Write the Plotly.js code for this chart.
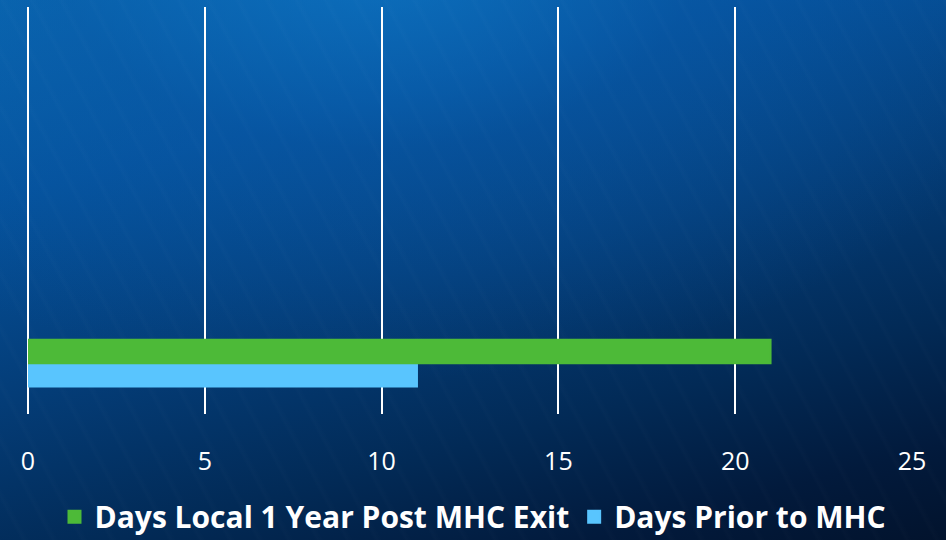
<!DOCTYPE html>
<html>
<head>
<meta charset="utf-8">
<script src="https://cdn.plot.ly/plotly-3.0.1.min.js"></script>
<style>
html,body{margin:0;padding:0;width:946px;height:540px;overflow:hidden;}
#bg{position:absolute;left:0;top:0;width:946px;height:540px;
background:
 repeating-linear-gradient(62deg, rgba(255,255,255,0.0) 0px, rgba(255,255,255,0.0) 18px, rgba(255,255,255,0.012) 21px, rgba(255,255,255,0.0) 26px),
 radial-gradient(ellipse 700px 420px at 380px -40px, rgba(15,120,200,0.65) 0%, rgba(10,90,170,0.4) 45%, rgba(0,0,0,0) 100%),
 linear-gradient(165deg, #0968b0 0%, #05529c 25%, #043d78 50%, #022a56 72%, #021a3c 88%, #02132d 100%);}
#chart{position:absolute;left:0;top:0;width:946px;height:540px;}
</style>
</head>
<body>
<div id="bg"></div>
<div id="chart"></div>
<script>
var categories = ['Days'];
var seriesNames = ['Days Local 1 Year Post MHC Exit', 'Days Prior to MHC'];
var postExitValues = [21];
var priorValues = [11];
var xTickValues = [0, 5, 10, 15, 20, 25];

var traces = [
  {type:'bar', orientation:'h', name: seriesNames[1], y: categories, x: priorValues,
   marker:{color:'#59c5fe', line:{color:'#59c5fe', width:2}}, legendrank: 2, hoverinfo:'x'},
  {type:'bar', orientation:'h', name: seriesNames[0], y: categories, x: postExitValues,
   marker:{color:'#4dba38', line:{color:'#4dba38', width:2}}, legendrank: 1, hoverinfo:'x'}
];

var layout = {
  width: 946, height: 540,
  paper_bgcolor:'rgba(0,0,0,0)', plot_bgcolor:'rgba(0,0,0,0)',
  margin:{l:28, r:34, t:7, b:126},
  barmode:'group', bargap:0.54, bargroupgap:0,
  font:{family:'"Open Sans", Lato, sans-serif', color:'#ffffff'},
  xaxis:{range:[0,25], tickvals:xTickValues, showgrid:true, gridcolor:'#ffffff', gridwidth:2,
    zeroline:true, zerolinecolor:'#ffffff', zerolinewidth:2, showline:false,
    ticks:'', ticklabelstandoff:30, tickfont:{size:25, color:'#ffffff', family:'"Open Sans", sans-serif'}, fixedrange:true},
  yaxis:{type:'category', range:[-0.5,3.5], showticklabels:false, showgrid:false, zeroline:false, showline:false, fixedrange:true},
  showlegend:true,
  legend:{orientation:'h', x:0.5, xanchor:'center', xref:'container', y:0.043, yanchor:'middle', yref:'container',
    font:{size:30, color:'#ffffff', family:'"Open Sans", sans-serif', weight:'bold'},
    itemwidth:30, traceorder:'normal', bgcolor:'rgba(0,0,0,0)'}
};

Plotly.newPlot('chart', traces, layout, {displayModeBar:false, staticPlot:true});
</script>
</body>
</html>
